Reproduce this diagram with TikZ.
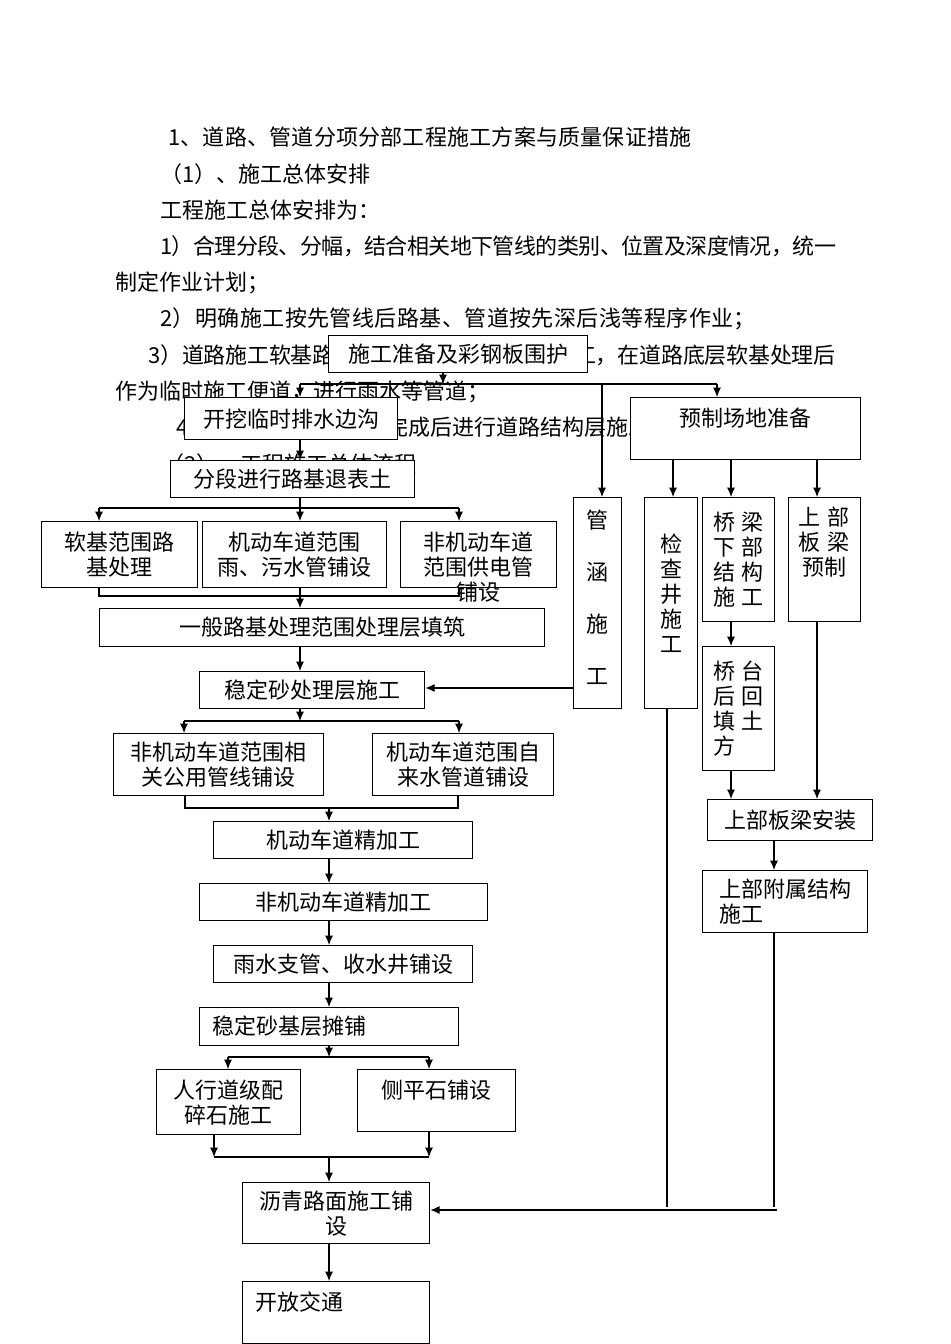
\documentclass[tikz,border=0pt]{standalone}
\usepackage{fontspec}
\setmainfont{Noto Sans CJK SC}
\usetikzlibrary{arrows.meta}
\newcommand\gap{\hspace{.3em}}

\begin{document}
\begin{tikzpicture}[x=0.75pt,y=0.75pt,yscale=-1,xscale=1,
  every node/.style={font=\fontsize{16.5pt}{18.75pt}\selectfont, inner sep=0pt},
  box/.style={draw, fill=white, line width=1pt, anchor=north west, align=center},
  wh/.style 2 args={minimum width=#1*0.75pt, minimum height=#2*0.75pt},
  txt/.style={anchor=west},
  arr/.style={-{Latex[length=7pt,width=6pt]}, line width=0.8pt},
  ln/.style={line width=0.8pt}]

\path[use as bounding box, fill=white] (0,0) rectangle (950,1344);

% text of the page
\node[txt] (t1) at (168,137) {\addfontfeature{LetterSpace=1}1、道路、管道分项分部工程施工方案与质量保证措施};
\node[txt] (t2) at (160,174) {（1）、施工总体安排};
\node[txt] (t3) at (160,210) {工程施工总体安排为：};
\node[txt] (t4) at (160,246) {\addfontfeature{LetterSpace=-2.7}1）合理分段、分幅，结合相关地下管线的类别、位置及深度情况，统一};
\node[txt] (t5) at (115,283) {制定作业计划；};
\node[txt] (t6) at (160,319) {\addfontfeature{LetterSpace=2}2）明确施工按先管线后路基、管道按先深后浅等程序作业；};
\node[txt] (t7) at (148,355) {\addfontfeature{LetterSpace=-1}3）道路施工软基路段按设计要求进行换填施工，在道路底层软基处理后};
\node[txt] (t8) at (115,392) {作为临时施工便道，进行雨水等管道；};
\node[txt] (t9) at (176,428) {4）所有地下管线铺设完成后进行道路结构层施工；};
\node[txt] (t10) at (162,464) {（2）、工程施工总体流程};

% left column
\node[box, wh={259}{37}] (prep) at (328,335) {施工准备及彩钢板围护};
\node[box, wh={213}{42}] (dig) at (184,397) {开挖临时排水边沟};
\node[box, wh={244}{37}] (strip) at (170,460) {分段进行路基退表土};
\node[box, wh={156}{66}] (soft) at (41,521) {软基范围路\\基处理};
\node[box, wh={184}{66}] (motor) at (202,521) {机动车道范围\\雨、污水管铺设};
\node[box, wh={156}{66}] (nonmotor) at (400,521) {};
\node[align=center] (nonmotort) at (478,567) {非机动车道\\范围供电管\\铺设};
\node[box, wh={445}{38}] (general) at (99,608) {一般路基处理范围处理层填筑};
\node[box, wh={225}{37}] (stab) at (199,671) {稳定砂处理层施工};
\node[box, wh={210}{62}] (util) at (113,733) {非机动车道范围相\\关公用管线铺设};
\node[box, wh={181}{62}] (water) at (372,733) {机动车道范围自\\来水管道铺设};
\node[box, wh={259}{37}] (finishA) at (213,821) {机动车道精加工};
\node[box, wh={288}{37}] (finishB) at (199,883) {非机动车道精加工};
\node[box, wh={259}{37}] (drain) at (213,945) {雨水支管、收水井铺设};
\node[box, wh={259}{38}] (base) at (199,1007) {};
\node[txt] (baset) at (212,1026) {稳定砂基层摊铺};
\node[box, wh={144}{65}] (ped) at (156,1069) {人行道级配\\碎石施工};
\node[box, wh={158}{62}] (curb) at (357,1069) {};
\node (curbt) at (436,1090) {侧平石铺设};
\node[box, wh={187}{61}] (asphalt) at (242,1182) {沥青路面施工铺\\设};
\node[box, wh={187}{62}] (open) at (242,1281) {};
\node[txt] (opent) at (255,1302) {开放交通};

% right column
\node[box, wh={230}{62}] (yard) at (630,397) {};
\node (yardt) at (745,418) {预制场地准备};
\node[box, wh={48}{211}] (culvert) at (573,497) {};
\node[align=center, font=\fontsize{16.5pt}{39pt}\selectfont] (culvertt) at (597,597) {管\\涵\\施\\工};
\node[box, wh={53}{211}] (well) at (644,497) {};
\node[align=center] (wellt) at (671,593) {检\\查\\井\\施\\工};
\node[box, wh={72}{124}] (substr) at (702,497) {桥\gap 梁\\下\gap 部\\结\gap 构\\施\gap 工};
\node[box, wh={72}{124}] (precast) at (788,497) {};
\node[align=center] (precastt) at (824,542) {上\gap 部\\板\gap 梁\\预制};
\node[box, wh={72}{124}, align=left] (backfill) at (702,646) {桥\gap 台\\后\gap 回\\填\gap 土\\方};
\node[box, wh={165}{41}] (install) at (707,799) {上部板梁安装};
\node[box, wh={165}{62}, align=left] (attach) at (702,870) {上部附属结构\\施工};

% top split
\coordinate (busA) at (443,384);
\coordinate (busL) at (300,384);
\coordinate (busM) at (602,384);
\coordinate (busR) at (717,384);
\draw[arr] (busA |- prep.south) -- (busA);
\draw[ln] (busL) -- (busR);
\draw[arr] (busL) -- (busL |- dig.north);
\draw[arr] (busM) -- (busM |- culvert.north);
\draw[arr] (busR) -- (busR |- yard.north);
\draw[arr] (busL |- dig.south) -- (busL |- strip.north);

% subgrade
\coordinate (fanL) at (99,508);
\coordinate (fanM) at (300,508);
\coordinate (fanR) at (459,508);
\draw[ln] (fanM |- strip.south) -- (fanM);
\draw[ln] (fanL) -- (fanR);
\draw[arr] (fanL) -- (fanL |- soft.north);
\draw[arr] (fanM) -- (fanM |- motor.north);
\draw[arr] (fanR) -- (fanR |- nonmotor.north);
\coordinate (mrgL) at (99,596);
\coordinate (mrgR) at (459,596);
\draw[ln] (mrgL |- soft.south) -- (mrgL) -- (mrgR) -- (mrgR |- nonmotor.south);
\draw[arr] (fanM |- motor.south) -- (fanM |- general.north);
\draw[arr] (fanM |- general.south) -- (fanM |- stab.north);
\coordinate (feed) at (0,688);
\draw[arr] (culvert.west |- feed) -- (stab.east |- feed);

% pipes
\coordinate (fanBL) at (184,721);
\coordinate (fanBR) at (459,721);
\draw[arr] (fanM |- stab.south) -- (fanM |- fanBL);
\draw[ln] (fanBL) -- (fanBR);
\draw[arr] (fanBL) -- (fanBL |- util.north);
\draw[arr] (fanBR) -- (fanBR |- water.north);
\coordinate (mrgBL) at (185,808);
\coordinate (mrgBR) at (458,808);
\coordinate (spine) at (329,808);
\draw[ln] (mrgBL |- util.south) -- (mrgBL) -- (mrgBR) -- (mrgBR |- water.south);
\draw[arr] (spine) -- (spine |- finishA.north);
\draw[arr] (spine |- finishA.south) -- (spine |- finishB.north);
\draw[arr] (spine |- finishB.south) -- (spine |- drain.north);
\draw[arr] (spine |- drain.south) -- (spine |- base.north);

% pavement
\coordinate (fanCL) at (228,1057);
\coordinate (fanCR) at (429,1057);
\draw[arr] (spine |- base.south) -- (spine |- fanCL);
\draw[ln] (fanCL) -- (fanCR);
\draw[arr] (fanCL) -- (fanCL |- ped.north);
\draw[arr] (fanCR) -- (fanCR |- curb.north);
\coordinate (mrgCL) at (214,1157);
\coordinate (mrgCR) at (429,1157);
\draw[arr] (mrgCL |- ped.south) -- (mrgCL);
\draw[arr] (mrgCR |- curb.south) -- (mrgCR);
\draw[ln] (mrgCL) -- (mrgCR);
\draw[arr] (spine |- mrgCL) -- (spine |- asphalt.north);
\draw[arr] (spine |- asphalt.south) -- (spine |- open.north);

% bridge
\coordinate (colW) at (673,0);
\coordinate (colS) at (731,0);
\coordinate (colP) at (817,0);
\coordinate (colA) at (774,0);
\draw[arr] (colW |- yard.south) -- (colW |- well.north);
\draw[arr] (colS |- yard.south) -- (colS |- substr.north);
\draw[arr] (colP |- yard.south) -- (colP |- precast.north);
\draw[arr] (colS |- substr.south) -- (colS |- backfill.north);
\draw[arr] (colS |- backfill.south) -- (colS |- install.north);
\draw[arr] (colP |- precast.south) -- (colP |- install.north);
\draw[arr] (colA |- install.south) -- (colA |- attach.north);

% back to asphalt
\coordinate (retW) at (667,1207);
\coordinate (retA) at (774,1207);
\coordinate (ret) at (777,1210);
\draw[ln] (retW |- well.south) -- (retW);
\draw[ln] (retA |- attach.south) -- (retA);
\draw[arr] (ret) -- (asphalt.east |- ret);

\end{tikzpicture}
\end{document}
